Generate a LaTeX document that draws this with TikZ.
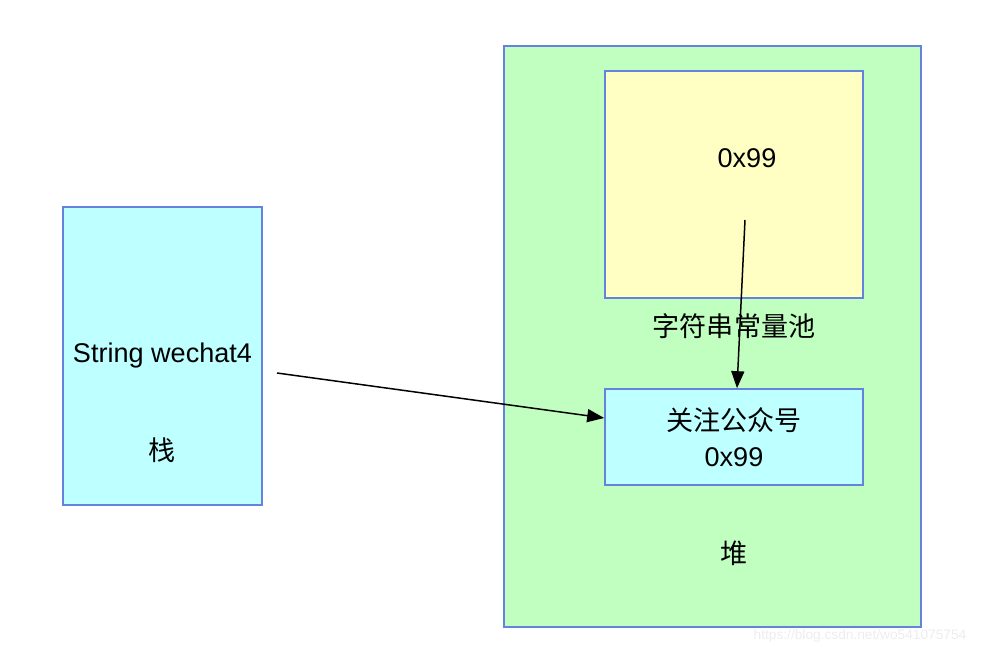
\documentclass[tikz,border=0pt]{standalone}
\usepackage{fontspec}
\setmainfont{Liberation Sans}
\newfontfamily\cjk{Noto Sans CJK SC}
\usepackage{tikz}
\usetikzlibrary{arrows.meta,positioning}

\definecolor{boxline}{RGB}{100,130,222}
\definecolor{stackfill}{RGB}{190,255,255}
\definecolor{heapfill}{RGB}{192,255,192}
\definecolor{poolfill}{RGB}{255,255,196}

\begin{document}
\begin{tikzpicture}[
    area/.style={draw=boxline, line width=0.9pt, minimum width=#1},
    label/.style={font=\fontsize{15.4}{20.5}\selectfont, align=center},
    edge/.style={-{Triangle[length=3.4mm,width=2.6mm]}, line width=0.85pt}
]
    \useasboundingbox (0,0) rectangle (19.76,13.04);

    \node[area=3.98cm, fill=stackfill, minimum height=5.96cm] (stack) at (3.25,5.92) {};
    \node[area=8.34cm, fill=heapfill, minimum height=11.62cm] (heap) at (14.25,6.31) {};
    \node[area=5.16cm, fill=poolfill, minimum height=4.54cm] (pool) at (14.68,9.35) {};
    \node[area=5.16cm, fill=stackfill, minimum height=1.92cm, label] (obj) at (14.68,4.30)
        {\cjk 关注公众号\\0x99};

    \node[label] (var) at (3.25,5.92) {String wechat4};
    \node[label] (stackname) at (3.25,4.04) {\cjk 栈};
    \node[label] (poolval) at (14.94,9.88) {0x99};
    \node[label] (poolname) at (14.68,6.52) {\cjk 字符串常量池};
    \node[label] (heapname) at (14.68,1.98) {\cjk 堆};

    \coordinate (ref) at (5.54,5.58);
    \coordinate (lit) at (14.90,8.64);
    \draw[edge] (ref) -- ([yshift=0.38cm]obj.west);
    \draw[edge] (lit) -- ([xshift=0.06cm]obj.north);

    \node[font=\fontsize{7.8}{9}\selectfont, text=black!7] (mark) at (17.20,0.32)
        {https://blog.csdn.net/wo541075754};
\end{tikzpicture}
\end{document}
